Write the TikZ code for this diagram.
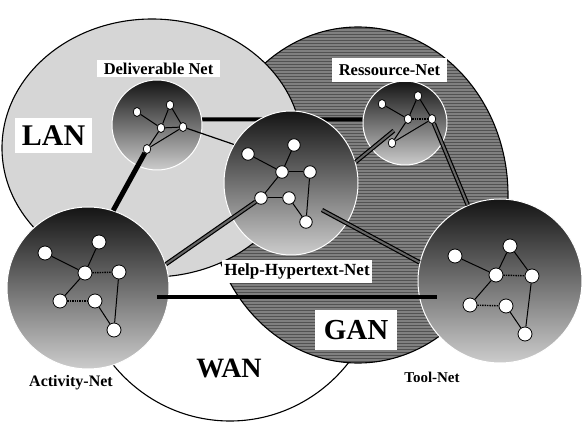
\documentclass[tikz,border=0pt]{standalone}
\usepackage{fontspec}
\setmainfont{Liberation Serif}
\usetikzlibrary{shapes.geometric,patterns}
\pgfdeclarelayer{back}
\pgfdeclarelayer{under}
\pgfsetlayers{back,under,main}
\begin{document}
\begin{tikzpicture}[x=1pt,y=-1pt,
  region/.style={draw=black,line width=1.1pt},
  sphere/.style={circle,draw=white,line width=1pt,inner sep=0pt,
    top color=black!92,middle color=black!62,bottom color=black!20},
  bigv/.style={circle,draw=black,fill=white,line width=0.8pt,inner sep=0pt,minimum size=14pt},
  midv/.style={circle,draw=black,fill=white,line width=0.8pt,inner sep=0pt,minimum size=12.5pt},
  smallv/.style={ellipse,draw=black,fill=white,line width=0.7pt,inner sep=0pt,minimum width=7.5pt,minimum height=9pt},
  link/.style={line width=1pt},
  dlink/.style={line width=1.4pt,densely dotted},
  bar/.style={line width=4pt},
  heavybar/.style={line width=5pt},
  tube/.style={draw=black,line width=1.2pt,double=black!60,double distance=2pt},
  boxlab/.style={fill=white,inner sep=0pt,font=\bfseries},
  netlab/.style={inner sep=0pt,font=\bfseries}
]
\useasboundingbox (0,0) rectangle (582,425);

\begin{pgfonlayer}{back}
  % wide area network
  \draw[region,fill=white] (230,265) ellipse [x radius=152, y radius=156];
  % global area network
  \fill[black!50] (358,195) ellipse [x radius=150, y radius=168];
  \fill[pattern=horizontal lines,pattern color=black!68] (358,195) ellipse [x radius=150, y radius=168];
  \draw[region] (358,195) ellipse [x radius=150, y radius=168];
  % local area network
  \draw[region,fill=black!16] (152,148) ellipse [x radius=150, y radius=129];
\end{pgfonlayer}

% the five nets
\node[sphere,minimum size=90pt] (deliv) at (157,125) {};
\node[sphere,minimum size=84pt] (ress) at (405,123) {};
\node[sphere,ellipse,minimum width=134pt,minimum height=144pt] (help) at (291,183) {};
\node[sphere,minimum size=162pt] (act) at (88,288) {};
\node[sphere,minimum size=164pt] (tool) at (500,281) {};

% Activity-Net
\foreach \n/\p in {A1/{45,253},A2/{99,242},A3/{85,273},A4/{119,272},A5/{60,301},A6/{95,301},A7/{114,330}}
  \node[bigv] (\n) at (\p) {};
% Tool-Net
\foreach \n/\p in {T1/{455,256},T2/{510,246},T3/{496,275},T4/{532,276},T5/{470,305},T6/{506,306},T7/{525,334}}
  \node[bigv] (\n) at (\p) {};
% Help-Hypertext-Net
\foreach \n/\p in {H1/{248,154},H2/{294,145},H3/{282,172},H4/{310,172},H5/{261,198},H6/{289,198},H7/{306,222}}
  \node[midv] (\n) at (\p) {};
% Deliverable Net
\foreach \n/\p in {D1/{137,112},D2/{170,105},D3/{161,128},D4/{183,127},D5/{147,149}}
  \node[smallv] (\n) at (\p) {};
% Ressource-Net
\foreach \n/\p in {R1/{382,104},R2/{418,96},R3/{408,119},R4/{432,119},R5/{392,143}}
  \node[smallv] (\n) at (\p) {};

% links inside the nets
\foreach \a/\b in {A1/A3,A2/A3,A3/A5,A6/A7,A4/A7,
                   T1/T3,T2/T3,T2/T4,T3/T5,T6/T7,T4/T7,
                   H1/H3,H2/H3,H3/H4,H3/H5,H5/H6,H6/H7,H4/H7,
                   D1/D3,D2/D3,D2/D4,D3/D4,D3/D5,D5/D4,
                   R1/R3,R2/R3,R2/R4,R5/R4,R3/R5}
  \draw[link] (\a) -- (\b);
\foreach \a/\b in {A3/A4,A5/A6,T3/T4,T5/T6,R3/R4}
  \draw[dlink] (\a) -- (\b);

% links between the nets
\begin{pgfonlayer}{under}
  \draw[bar] (deliv.7) -- (ress.175);
\end{pgfonlayer}
\coordinate (aT) at (157,297);
\coordinate (tA) at (437,297);
\coordinate (hT) at (322,210);
\draw[heavybar] (D5) -- (act.72);
\draw[link,line width=1.2pt] (D4) -- (help.146);
\draw[tube] (act.17) -- (H5);
\draw[tube,shorten >=14pt] (help.18) -- (R3);
\draw[tube] (R4) -- (tool.113);
\draw[tube] (hT) -- (tool.167);
\draw[bar] (aT) -- (tA);

% labels
\node[boxlab,minimum width=77pt,minimum height=35pt,font=\fontsize{30}{30}\selectfont\bfseries] (lanL) at (53.5,135.5) {LAN};
\node[boxlab,minimum width=82pt,minimum height=40pt,font=\fontsize{29}{29}\selectfont\bfseries] (ganL) at (356,330) {GAN};
\node[netlab,font=\fontsize{28}{28}\selectfont\bfseries] (wanL) at (229,368) {WAN};
\node[boxlab,minimum width=123pt,minimum height=17pt,font=\fontsize{16.5}{17}\selectfont\bfseries] (delivL) at (158.5,68.5) {Deliverable Net};
\node[boxlab,minimum width=115pt,minimum height=24pt,font=\fontsize{16.5}{17}\selectfont\bfseries] (ressL) at (389.5,70) {Ressource-Net};
\node[boxlab,minimum width=150pt,minimum height=23pt,font=\fontsize{17}{18}\selectfont\bfseries] (helpL) at (297,271.5) {Help-Hypertext-Net};
\node[netlab,font=\fontsize{16}{17}\selectfont\bfseries] (actL) at (71,383) {Activity-Net};
\node[netlab,font=\fontsize{15}{16}\selectfont\bfseries] (toolL) at (432,377) {Tool-Net};
\end{tikzpicture}
\end{document}
